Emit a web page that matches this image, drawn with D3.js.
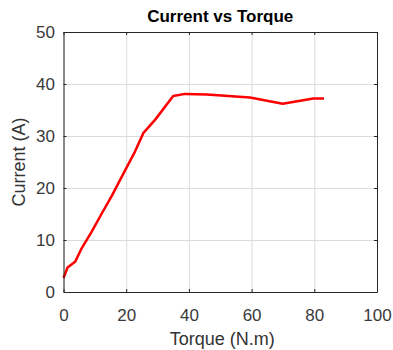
<!DOCTYPE html>
<html lang="en">
<head>
    <meta charset="UTF-8">
    <title>Current vs Torque</title>
    <script src="https://cdn.jsdelivr.net/npm/d3@7"></script>
    <style>
        body { margin: 0; background: white; }
        text { font-family: "Liberation Sans", Arial, sans-serif; fill: #333; }
        .grid line { stroke: #dcdcdc; stroke-width: 1; }
        .grid path { display: none; }
        .axis path, .axis line { stroke: #262626; }
        .axis text { font-size: 17px; fill: #3a3a3a; }
    </style>
</head>
<body>
<script>
    const width = 393, height = 350;
    const margin = {top: 32, right: 16, bottom: 58, left: 63.5};

    // values
    const torque  = [0, 1.3, 3.7, 5.8, 9, 12.2, 15.4, 18.6, 22.8, 25.5, 29.2, 35, 38.8, 45.7, 59.5, 69.9, 79.7, 83.1];
    const current = [2.7, 4.7, 5.8, 8.4, 11.6, 15.1, 18.5, 22.2, 27, 30.6, 33.1, 37.7, 38.1, 38, 37.4, 36.2, 37.2, 37.2];
    const xTicks = [0, 20, 40, 60, 80, 100];
    const yTicks = [0, 10, 20, 30, 40, 50];

    const data = torque.map((t, i) => ({t: t, c: current[i]}));

    const svg = d3.select("body")
                  .append("svg")
                  .attr("width", width)
                  .attr("height", height);

    const x = d3.scaleLinear().domain([0, 100]).range([margin.left, width - margin.right]);
    const y = d3.scaleLinear().domain([0, 50]).range([height - margin.bottom, margin.top]);

    const x0 = x.range()[0], x1 = x.range()[1];
    const y0 = y.range()[0], y1 = y.range()[1];

    // grid
    svg.append("g").attr("class", "grid")
       .attr("transform", `translate(0,${y0})`)
       .call(d3.axisBottom(x).tickValues(xTicks).tickSize(-(y0 - y1)).tickFormat(""));
    svg.append("g").attr("class", "grid")
       .attr("transform", `translate(${x0},0)`)
       .call(d3.axisLeft(y).tickValues(yTicks).tickSize(-(x1 - x0)).tickFormat(""));

    // the line
    const line = d3.line().x(d => x(d.t)).y(d => y(d.c));
    svg.append("path")
       .datum(data)
       .attr("d", line)
       .attr("fill", "none")
       .attr("stroke", "#ff0000")
       .attr("stroke-width", 2.5)
       .attr("stroke-linejoin", "round");

    // axes, ticks pointing inward like matlab
    svg.append("g").attr("class", "axis")
       .attr("transform", `translate(0,${y0})`)
       .call(d3.axisBottom(x).tickValues(xTicks).tickSizeInner(-3).tickSizeOuter(0).tickPadding(17))
       .call(g => g.selectAll("text").attr("dy", "0.71em"));
    svg.append("g").attr("class", "axis")
       .attr("transform", `translate(${x0},0)`)
       .call(d3.axisLeft(y).tickValues(yTicks).tickSizeInner(-3).tickSizeOuter(0).tickPadding(8.5));
    svg.append("g").attr("class", "axis")
       .attr("transform", `translate(0,${y1})`)
       .call(d3.axisTop(x).tickValues(xTicks).tickSizeInner(-3).tickSizeOuter(0).tickFormat(""));
    svg.append("g").attr("class", "axis")
       .attr("transform", `translate(${x1},0)`)
       .call(d3.axisRight(y).tickValues(yTicks).tickSizeInner(-3).tickSizeOuter(0).tickFormat(""));

    // titles
    svg.append("text")
       .attr("x", (x0 + x1) / 2).attr("y", 22)
       .attr("text-anchor", "middle")
       .style("font-size", "17px").style("font-weight", "bold").style("fill", "#000")
       .text("Current vs Torque");
    svg.append("text")
       .attr("x", (x0 + x1) / 2 + 2).attr("y", 345)
       .attr("text-anchor", "middle")
       .style("font-size", "18px")
       .text("Torque (N.m)");
    svg.append("text")
       .attr("transform", `translate(25,${(y0 + y1) / 2}) rotate(-90)`)
       .attr("text-anchor", "middle")
       .style("font-size", "18px")
       .text("Current (A)");
</script>
</body>
</html>
